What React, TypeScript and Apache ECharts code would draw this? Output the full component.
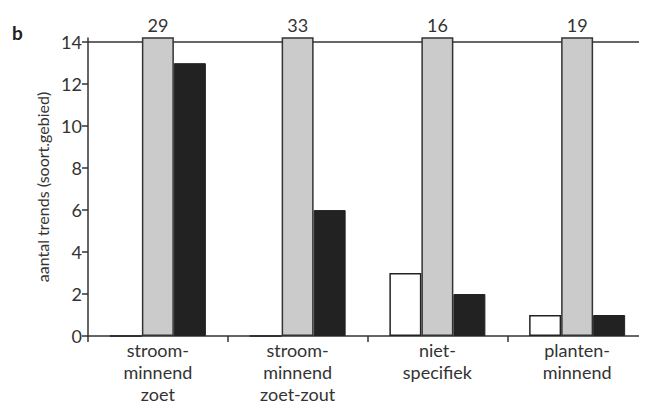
import React, { useEffect, useRef } from "react";
import * as echarts from "echarts";

const categories = ["stroom-\nminnend\nzoet", "stroom-\nminnend\nzoet-zout", "niet-\nspecifiek", "planten-\nminnend"];
const whiteValues = [0, 0, 3, 1];
const grayValues = [29, 33, 16, 19];
const blackValues = [13, 6, 2, 1];
const yTicks = [0, 2, 4, 6, 8, 10, 12, 14];

const FONT = "Lato, 'Open Sans', sans-serif";

export default function App() {
  const ref = useRef<HTMLDivElement>(null);
  useEffect(() => {
    if (!ref.current) return;
    const chart = echarts.init(ref.current, undefined, { renderer: "svg" });
    chart.setOption({
      animation: false,
      title: {
        text: "b",
        left: 4,
        top: 15,
        padding: 0,
        textStyle: { fontFamily: FONT, fontSize: 19, fontWeight: "bold", color: "#222" },
      },
      grid: { left: 80, right: -6, top: 30, bottom: 77 },
      xAxis: {
        type: "category",
        data: categories,
        axisLine: { lineStyle: { color: "#333", width: 1.5 } },
        axisTick: { show: true, length: 6, inside: false, lineStyle: { color: "#333", width: 1.5 } },
        axisLabel: {
          fontFamily: FONT,
          fontSize: 18,
          color: "#333",
          lineHeight: 22,
          margin: 3,
        },
      },
      yAxis: {
        type: "value",
        min: 0,
        max: 14.2,
        name: "aantal trends (soort.gebied)",
        nameLocation: "middle",
        nameGap: 34,
        nameTextStyle: { fontFamily: FONT, fontSize: 16, color: "#333" },
        axisLine: { show: true, lineStyle: { color: "#333", width: 1.5 } },
        axisTick: { show: true, length: 6, customValues: yTicks, lineStyle: { color: "#333", width: 1.5 } },
        axisLabel: { fontFamily: FONT, fontSize: 18, color: "#333", margin: 6, customValues: yTicks },
        splitLine: { show: false },
      },
      series: [
        {
          type: "bar",
          data: whiteValues,
          barWidth: 32,
          barGap: "0%",
          z: 2,
          itemStyle: { color: "#fff", borderColor: "#222", borderWidth: 1.5 },
          markLine: {
            silent: true,
            symbol: "none",
            z: 1,
            label: { show: false },
            lineStyle: { color: "#333", width: 1.5, type: "solid" },
            data: [{ yAxis: 14 }],
          },
        },
        {
          type: "bar",
          data: grayValues,
          barWidth: 32,
          barGap: "0%",
          z: 3,
          itemStyle: { color: "#cbcbcb", borderColor: "#333", borderWidth: 1.5 },
          label: {
            show: true,
            position: "top",
            distance: 3,
            fontFamily: FONT,
            fontSize: 18,
            color: "#333",
          },
        },
        {
          type: "bar",
          data: blackValues,
          barWidth: 32,
          barGap: "0%",
          z: 2,
          itemStyle: { color: "#222", borderColor: "#222", borderWidth: 1 },
        },
      ],
    });
    return () => chart.dispose();
  }, []);
  return <div ref={ref} style={{ width: 639, height: 405 }} />;
}
